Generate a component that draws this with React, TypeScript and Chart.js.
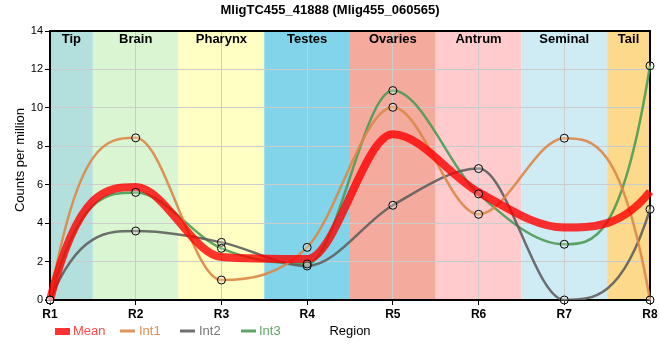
import React, { useEffect, useRef } from 'react';
import { Chart, registerables } from 'chart.js';

Chart.register(...registerables);

const categories = ['R1', 'R2', 'R3', 'R4', 'R5', 'R6', 'R7', 'R8'];
const meanValues = [0, 5.88, 2.24, 2.13, 8.62, 5.61, 3.77, 5.64];
const int1Values = [0, 8.44, 1.04, 2.74, 10.03, 4.46, 8.42, 0];
const int2Values = [0, 3.59, 3.0, 1.77, 4.93, 6.84, 0, 4.72];
const int3Values = [0, 5.6, 2.69, 1.875, 10.9, 5.52, 2.9, 12.19];
const yTicks = [0, 2, 4, 6, 8, 10, 12, 14];

const regionNames = ['Tip', 'Brain', 'Pharynx', 'Testes', 'Ovaries', 'Antrum', 'Seminal', 'Tail'];
const regionStart = [0, 0.5, 1.5, 2.5, 3.5, 4.5, 5.5, 6.5];
const regionEnd = [0.5, 1.5, 2.5, 3.5, 4.5, 5.5, 6.5, 7];
const regionColors = ['#b3e0dd', '#d9f5d1', '#ffffc4', '#81d4ea', '#f4aa9c', '#ffcbcc', '#cfebf4', '#fdd98b'];

const titleText = 'MligTC455_41888 (Mlig455_060565)';
const yTitle = 'Counts per million';
const xTitle = 'Region';

const FONT = '"Liberation Sans", Arial, sans-serif';

const seriesNames = ['Mean', 'Int1', 'Int2', 'Int3'];
const seriesColors = ['rgba(255,0,0,0.8)', 'rgba(220,135,70,0.9)', 'rgba(95,95,95,0.9)', 'rgba(75,155,85,0.9)'];
const legendTextColors = ['#ff4a4a', '#e39152', '#777777', '#62a866'];

const bandsPlugin = {
  id: 'bands',
  beforeDraw(chart: any) {
    const { ctx, chartArea } = chart;
    const x = chart.scales.x;
    ctx.save();
    for (let i = 0; i < regionNames.length; i++) {
      const x0 = x.getPixelForValue(regionStart[i]);
      const x1 = x.getPixelForValue(regionEnd[i]);
      ctx.fillStyle = regionColors[i];
      ctx.fillRect(x0, chartArea.top, x1 - x0, chartArea.bottom - chartArea.top);
    }
    ctx.restore();
  },
  beforeDatasetsDraw(chart: any) {
    const { ctx, chartArea } = chart;
    const x = chart.scales.x;
    // steeper end tangents for the curves (3x the end secant)
    for (let d = 0; d < chart.data.datasets.length; d++) {
      const meta = chart.getDatasetMeta(d);
      const line = meta.dataset;
      if (!line) continue;
      line.updateControlPoints(chartArea, 'x');
      const pts = meta.data;
      const n = pts.length;
      if (n < 2) continue;
      const p0 = pts[0], p1 = pts[1];
      p0.cp2x = p0.x + (p1.x - p0.x) / 3;
      p0.cp2y = p1.y;
      const pn = pts[n - 1], pm = pts[n - 2];
      pn.cp1x = pn.x - (pn.x - pm.x) / 3;
      pn.cp1y = pm.y;
      line._path = undefined;
    }
    ctx.save();
    ctx.font = 'bold 13px ' + FONT;
    ctx.fillStyle = '#000';
    ctx.textAlign = 'center';
    ctx.textBaseline = 'top';
    for (let i = 0; i < regionNames.length; i++) {
      const x0 = x.getPixelForValue(regionStart[i]);
      const x1 = x.getPixelForValue(regionEnd[i]);
      ctx.fillText(regionNames[i], (x0 + x1) / 2, chartArea.top + 2);
    }
    ctx.strokeStyle = '#000';
    ctx.lineWidth = 2;
    ctx.strokeRect(chartArea.left, chartArea.top, chartArea.right - chartArea.left, chartArea.bottom - chartArea.top);
    ctx.restore();
  },
  afterDatasetsDraw(chart: any) {
    const { ctx } = chart;
    ctx.save();
    for (let d = 1; d < chart.data.datasets.length; d++) {
      const meta = chart.getDatasetMeta(d);
      for (const el of meta.data) {
        ctx.beginPath();
        ctx.arc(el.x, el.y, 4, 0, Math.PI * 2);
        ctx.fillStyle = 'rgba(255,255,255,0.25)';
        ctx.fill();
        ctx.lineWidth = 1;
        ctx.strokeStyle = '#000';
        ctx.stroke();
      }
    }
    ctx.restore();
  },
  afterDraw(chart: any) {
    const { ctx, chartArea } = chart;
    ctx.save();
    ctx.font = 'bold 13px ' + FONT;
    ctx.fillStyle = '#000';
    ctx.textAlign = 'center';
    ctx.textBaseline = 'middle';
    ctx.fillText(titleText, 330, 10);
    ctx.font = '13px ' + FONT;
    ctx.save();
    ctx.translate(20, 160);
    ctx.rotate(-Math.PI / 2);
    ctx.fillText(yTitle, 0, 0);
    ctx.restore();
    ctx.fillText(xTitle, (chartArea.left + chartArea.right) / 2, 331);
    const items = [
      { sx: 55, tx: 73 },
      { sx: 120, tx: 139 },
      { sx: 180, tx: 199 },
      { sx: 241, tx: 259 },
    ];
    ctx.textAlign = 'left';
    ctx.font = '13px ' + FONT;
    for (let i = 0; i < items.length; i++) {
      const it = items[i];
      if (i === 0) {
        ctx.fillStyle = 'rgba(255,0,0,0.8)';
        ctx.fillRect(it.sx, 328, 15, 7);
      } else {
        ctx.strokeStyle = seriesColors[i];
        ctx.lineWidth = 3;
        ctx.beginPath();
        ctx.moveTo(it.sx, 331);
        ctx.lineTo(it.sx + 15, 331);
        ctx.stroke();
      }
      ctx.fillStyle = legendTextColors[i];
      ctx.fillText(seriesNames[i], it.tx, 331);
    }
    ctx.restore();
  },
};

export default function App() {
  const ref = useRef<HTMLCanvasElement | null>(null);
  useEffect(() => {
    if (!ref.current) return;
    const values = [meanValues, int1Values, int2Values, int3Values];
    const chart = new Chart(ref.current, {
      type: 'line',
      data: {
        labels: categories,
        datasets: values.map((v, i) => ({
          label: seriesNames[i],
          data: v,
          borderColor: seriesColors[i],
          backgroundColor: seriesColors[i],
          borderWidth: i === 0 ? 8 : 2.5,
          pointRadius: 0,
          pointHoverRadius: 0,
          cubicInterpolationMode: 'monotone' as const,
          fill: false,
        })),
      },
      options: {
        responsive: false,
        animation: false,
        devicePixelRatio: 1,
        layout: { padding: { left: 0, right: 10, top: 31, bottom: 0 } },
        plugins: {
          legend: { display: false },
          title: { display: false },
          tooltip: { enabled: false },
        },
        scales: {
          x: {
            type: 'category',
            offset: false,
            grid: { color: '#cccccc', tickColor: '#000', tickLength: 5, lineWidth: 1 },
            border: { display: false },
            ticks: { font: { family: FONT, size: 12, weight: 'bold' }, color: '#000', padding: 2, maxRotation: 0 },
            afterFit(scale: any) { scale.height = 60; },
          },
          y: {
            min: 0,
            max: 14,
            afterBuildTicks(scale: any) { scale.ticks = yTicks.map((v) => ({ value: v })); },
            grid: { color: '#cccccc', tickColor: '#000', tickLength: 5, lineWidth: 1 },
            border: { display: false },
            ticks: { font: { family: FONT, size: 11 }, color: '#000', padding: 2 },
            afterFit(scale: any) { scale.width = 50; },
          },
        },
      } as any,
      plugins: [bandsPlugin],
    });
    return () => chart.destroy();
  }, []);
  return (
    <div style={{ position: 'fixed', left: 0, top: 0, width: 660, height: 360, background: '#fff' }}>
      <canvas ref={ref} width={660} height={360} style={{ width: 660, height: 360, display: 'block' }} />
    </div>
  );
}
